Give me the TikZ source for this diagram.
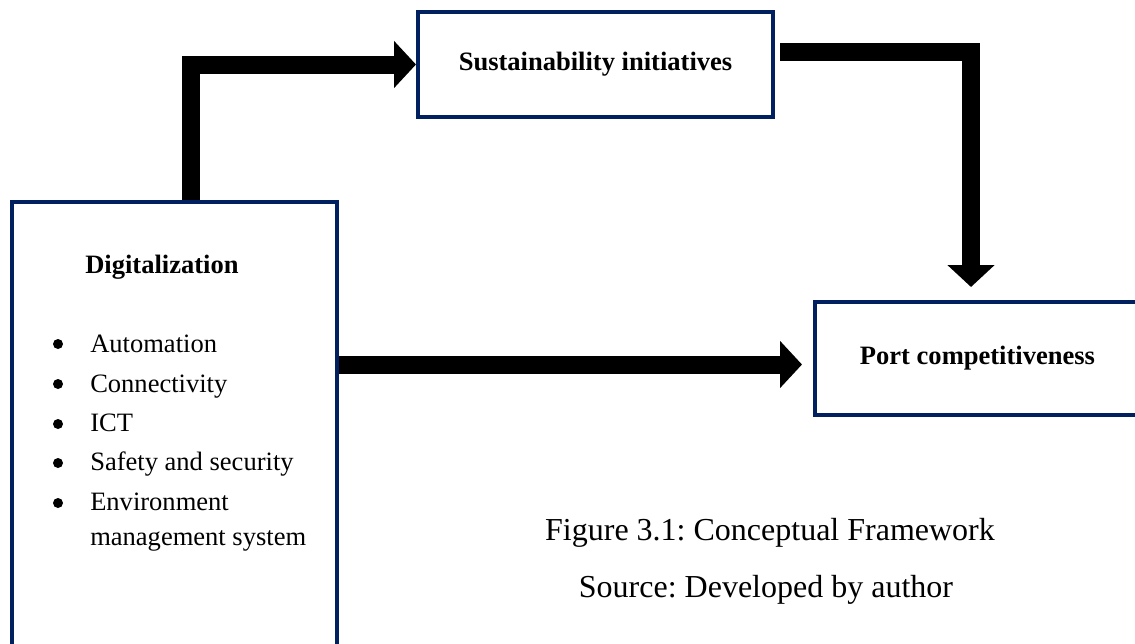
\documentclass[tikz,border=0pt]{standalone}
\usepackage{fontspec}
\setmainfont{Liberation Serif}
\usetikzlibrary{arrows.meta,calc,backgrounds}
\definecolor{navy}{RGB}{0,32,96}
\frenchspacing
\begin{document}
\begin{tikzpicture}[x=0.75pt,y=-0.75pt,
  box/.style={draw=navy, line width=3pt, inner sep=0pt, fill=white, align=center},
  flow/.style={draw=black, line width=13.5pt, line join=miter,
    -{Triangle[length=16.5pt,width=34.5pt]}},
  lbl/.style={inner sep=0pt, font=\fontsize{19.9}{24}\selectfont},
  blbl/.style={inner sep=0pt, font=\fontsize{19.9}{24}\selectfont\bfseries},
  dot/.style={circle, fill=black, inner sep=0pt, minimum size=7.5pt},
  captext/.style={inner sep=0pt, anchor=base, font=\fontsize{24}{29}\selectfont}]
\useasboundingbox (0,0) rectangle (1135,643);
\clip (0,0) rectangle (1135,643);
% boxes
\node[box, minimum width=243.75pt, minimum height=375pt, anchor=north west] (dig) at (10,200) {};
\node[box, blbl, minimum width=266.25pt, minimum height=78.75pt] (sus) at (595.5,64.5) {Sustainability initiatives};
\node[box, blbl, minimum width=243.75pt, minimum height=84.75pt] (port) at (977.5,358.5) {Port competitiveness};
% box content
\node[blbl, anchor=base west] (dtitle) at (85,273) {Digitalization};
\node[dot] (d1) at (58,344) {};
\node[dot] (d2) at (58,384) {};
\node[dot] (d3) at (58,424) {};
\node[dot] (d4) at (58,463) {};
\node[dot] (d5) at (58,503) {};
\node[lbl, anchor=base west] (i1) at (90,352) {Automation};
\node[lbl, anchor=base west] (i2) at (90,392) {Connectivity};
\node[lbl, anchor=base west] (i3) at (90,431) {ICT};
\node[lbl, anchor=base west] (i4) at (90,470) {Safety and security};
\node[lbl, anchor=base west] (i5) at (90,510) {Environment};
\node[lbl, anchor=base west] (i6) at (90,545) {management system};
% captions
\node[captext] (fig) at (770,540) {Figure 3.1: Conceptual Framework};
\node[captext] (src) at (766,597) {Source: Developed by author};
% arrows
\coordinate (a1s) at ($(dig.north west)+(181,0)$);
\coordinate (a2s) at ($(sus.north east)+(5,41.5)$);
\coordinate (a2e) at ($(port.north west)+(158,-13)$);
\coordinate (a3s) at ($(dig.north east)+(0,164.5)$);
\coordinate (a3e) at ($(port.west)+(-11,6)$);
\begin{scope}[on background layer]
\draw[flow] (a1s) |- (sus.west);
\draw[flow] (a2s) -| (a2e);
\draw[flow] (a3s) -- (a3e);
\end{scope}
\end{tikzpicture}
\end{document}
